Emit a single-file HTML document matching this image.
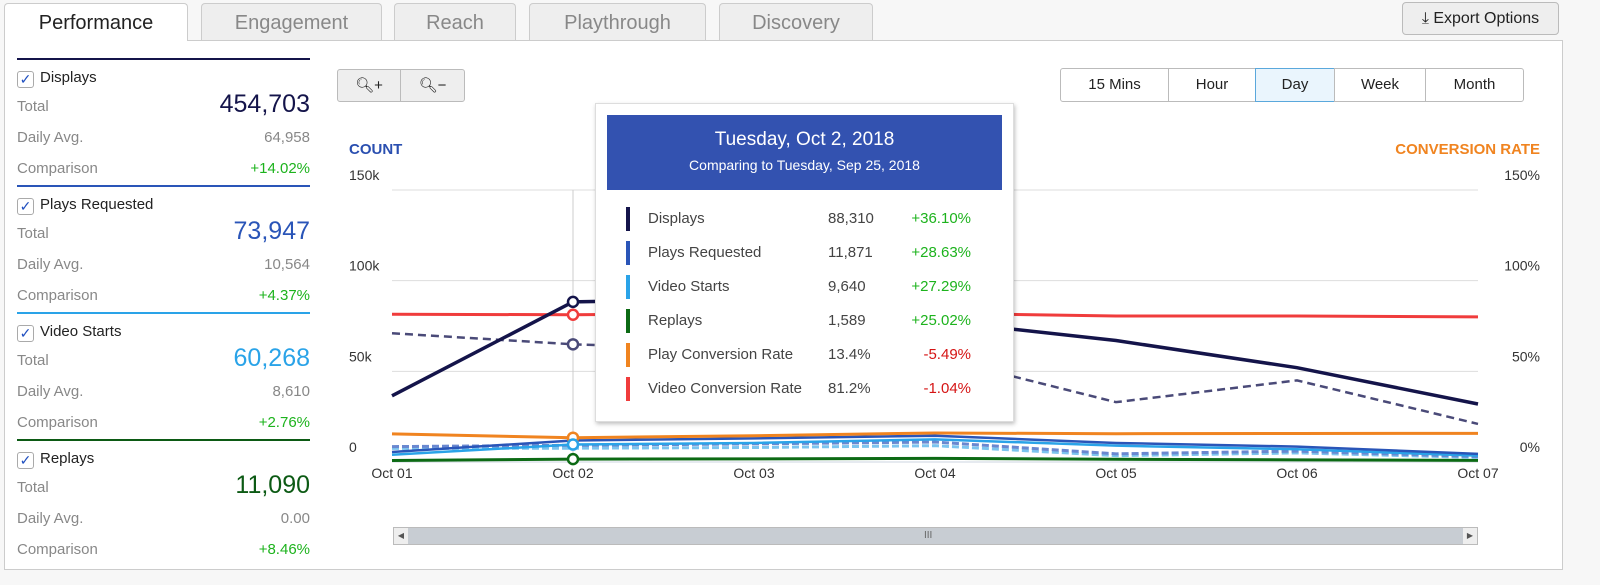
<!DOCTYPE html>
<html><head><meta charset="utf-8"><style>
body{margin:0;width:1600px;height:585px;background:#f7f7f7;font-family:"Liberation Sans",sans-serif;position:relative;overflow:hidden}
.a{position:absolute}
.tab{position:absolute;top:3px;height:37px;border:1px solid #ccc;border-bottom:none;background:#eee;border-radius:4px 4px 0 0;color:#888;font-size:20px;text-align:center;line-height:38px;box-sizing:border-box}
#panel{position:absolute;left:4px;top:40px;width:1559px;height:530px;background:#fff;border:1px solid #ccc;box-sizing:border-box}
.sec{position:absolute;left:17px;width:293px;height:127px;font-size:15px;color:#888}
.sec .t{position:absolute;top:9px;left:0;color:#222;font-size:15px}
.cb{display:inline-block;width:15px;height:15px;border:1px solid #aaa;border-radius:3px;vertical-align:-2px;margin-right:6px;text-align:center;line-height:15px;color:#2150c0;font-size:14px}
.row{position:absolute;left:0;right:0}
.row span{position:absolute;right:0}
.btn{position:absolute;border:1px solid #bbb;background:#fff;font-size:15px;text-align:center;line-height:32px;color:#222;box-sizing:border-box}
</style></head><body>
<div class="tab" style="left:4px;width:184px;background:#fff;color:#222;height:38px;z-index:2">Performance</div>
<div class="tab" style="left:201px;width:181px">Engagement</div>
<div class="tab" style="left:394px;width:122px">Reach</div>
<div class="tab" style="left:529px;width:177px">Playthrough</div>
<div class="tab" style="left:719px;width:154px">Discovery</div>
<div class="a" style="left:1402px;top:2px;width:157px;height:33px;border:1px solid #bbb;border-radius:4px;background:#eee;box-sizing:border-box;font-size:16px;line-height:31px;text-align:center;color:#222">⤓ Export Options</div>
<div id="panel"></div>

<div class="a" style="left:17px;top:58px;width:293px;height:2px;background:#14144a"></div>
<div class="sec" style="top:60px">
 <div class="t"><span class="cb">✓</span>Displays</div>
 <div class="row" style="top:38px">Total<span style="font-size:25px;color:#14144a;top:-8px">454,703</span></div>
 <div class="row" style="top:69px">Daily Avg.<span>64,958</span></div>
 <div class="row" style="top:100px">Comparison<span style="color:#1db31d">+14.02%</span></div>
</div>
<div class="a" style="left:17px;top:185px;width:293px;height:2px;background:#2a55b8"></div>
<div class="sec" style="top:187px">
 <div class="t"><span class="cb">✓</span>Plays Requested</div>
 <div class="row" style="top:38px">Total<span style="font-size:25px;color:#2a55b8;top:-8px">73,947</span></div>
 <div class="row" style="top:69px">Daily Avg.<span>10,564</span></div>
 <div class="row" style="top:100px">Comparison<span style="color:#1db31d">+4.37%</span></div>
</div>
<div class="a" style="left:17px;top:312px;width:293px;height:2px;background:#2aa3e8"></div>
<div class="sec" style="top:314px">
 <div class="t"><span class="cb">✓</span>Video Starts</div>
 <div class="row" style="top:38px">Total<span style="font-size:25px;color:#2aa3e8;top:-8px">60,268</span></div>
 <div class="row" style="top:69px">Daily Avg.<span>8,610</span></div>
 <div class="row" style="top:100px">Comparison<span style="color:#1db31d">+2.76%</span></div>
</div>
<div class="a" style="left:17px;top:439px;width:293px;height:2px;background:#0c5a14"></div>
<div class="sec" style="top:441px">
 <div class="t"><span class="cb">✓</span>Replays</div>
 <div class="row" style="top:38px">Total<span style="font-size:25px;color:#0c5a14;top:-8px">11,090</span></div>
 <div class="row" style="top:69px">Daily Avg.<span>0.00</span></div>
 <div class="row" style="top:100px">Comparison<span style="color:#1db31d">+8.46%</span></div>
</div>

<div class="btn" style="left:337px;top:69px;width:64px;height:33px;background:#eee;border-radius:3px 0 0 3px">🔍︎+</div>
<div class="btn" style="left:400px;top:69px;width:65px;height:33px;background:#eee;border-radius:0 3px 3px 0">🔍︎−</div>

<div class="btn" style="left:1060px;top:68px;width:109px;height:34px;border-radius:3px 0 0 3px">15 Mins</div>
<div class="btn" style="left:1168px;top:68px;width:88px;height:34px">Hour</div>
<div class="btn" style="left:1255px;top:68px;width:80px;height:34px;background:#eaf5fd;border-color:#5aa8dc">Day</div>
<div class="btn" style="left:1334px;top:68px;width:92px;height:34px">Week</div>
<div class="btn" style="left:1425px;top:68px;width:99px;height:34px;border-radius:0 3px 3px 0">Month</div>

<svg class="a" style="left:0;top:0" width="1600" height="585" id="chart"></svg>

<div class="a" style="left:393px;top:527px;width:1085px;height:18px;background:#c8cdd3;border:1px solid #bbb;box-sizing:border-box">
 <div class="a" style="left:0;top:0;width:14px;height:16px;background:#eee;font-size:8px;line-height:16px;text-align:center;color:#555">◀</div>
 <div class="a" style="left:530px;top:0;font-size:10px;line-height:16px;color:#666">III</div>
 <div class="a" style="right:0;top:0;width:14px;height:16px;background:#eee;font-size:8px;line-height:16px;text-align:center;color:#555">▶</div>
</div>

<div class="a" style="left:595px;top:103px;width:417px;height:317px;background:#fff;border:1px solid #ddd;box-shadow:1px 2px 4px rgba(0,0,0,.25)">
 <div class="a" style="left:11px;top:11px;width:395px;height:75px;background:#3352b0;color:#fff;text-align:center">
  <div style="font-size:19px;margin-top:14px">Tuesday, Oct 2, 2018</div>
  <div style="font-size:14px;margin-top:6px">Comparing to Tuesday, Sep 25, 2018</div>
 </div>
 <div id="tt"></div>
</div>

<script>
const categories=["Oct 01","Oct 02","Oct 03","Oct 04","Oct 05","Oct 06","Oct 07"];
const leftTicks=[0,50000,100000,150000];
const leftTickLabels=["0","50k","100k","150k"];
const rightTickLabels=["0%","50%","100%","150%"];
const displays=[36500,88310,90000,78000,67000,52000,32000];
const displaysPrev=[71000,64900,62000,58000,33000,45000,21000];
const playsRequested=[5500,11871,13000,14500,10500,8500,4500];
const playsRequestedPrev=[8500,9200,10000,11000,4500,6000,3000];
const videoStarts=[4000,9640,10500,12500,9000,7000,3500];
const videoStartsPrev=[7500,7600,8000,9000,3500,5000,2500];
const replays=[800,1589,1700,2000,1500,1200,900];
const playConv=[15.5,13.4,14.5,16,15.6,15.7,15.8];
const videoConv=[81.5,81.2,82,82,80.5,80.5,80];
const ttNames=["Displays","Plays Requested","Video Starts","Replays","Play Conversion Rate","Video Conversion Rate"];
const ttValues=["88,310","11,871","9,640","1,589","13.4%","81.2%"];
const ttChanges=["+36.10%","+28.63%","+27.29%","+25.02%","-5.49%","-1.04%"];
const colors=["#14144a","#2a55b8","#2aa3e8","#0c6a14","#f08420","#f03c3c"];

const svg=document.getElementById('chart'),NS="http://www.w3.org/2000/svg";
const X0=392,X1=1478,Y0=462,Y1=190;
const x=i=>X0+(X1-X0)*i/(categories.length-1);
const yL=v=>Y0-(Y0-Y1)*v/150000;
const yR=v=>Y0-(Y0-Y1)*v/150;
function el(t,a,p){const e=document.createElementNS(NS,t);for(const k in a)e.setAttribute(k,a[k]);(p||svg).appendChild(e);return e;}
leftTicks.forEach((t,i)=>{
 const g=el('line',{x1:X0,x2:X1,y1:yL(t),y2:yL(t),stroke:i?'#ddd':'#e6eaf0','stroke-width':i?1:2});
 
 
 const l=el('text',{x:349,y:yL(t)-10,'font-size':14,fill:'#333'});l.textContent=leftTickLabels[i];
 
 
 const r=el('text',{x:1540,y:yR(t/1000)-10,'font-size':14,fill:'#333','text-anchor':'end'});r.textContent=rightTickLabels[i];
 
 
});
categories.forEach((c,i)=>{const t=el('text',{x:x(i),y:478,'font-size':14,fill:'#333','text-anchor':'middle'});t.textContent=c;
 
 });
let ct=el('text',{x:349,y:154,'font-size':15,'font-weight':'bold',fill:'#2a4fb0'});ct.textContent="COUNT";


ct=el('text',{x:1540,y:154,'font-size':15,'font-weight':'bold',fill:'#f08420','text-anchor':'end'});ct.textContent="CONVERSION RATE";


el('line',{x1:x(1),x2:x(1),y1:Y1,y2:Y0,stroke:'#ccc'});
function line(d,f,col,w,dash,name){
 const p=el('polyline',{points:d.map((v,i)=>x(i)+','+f(v)).join(' '),fill:'none',stroke:col,'stroke-width':w,'stroke-dasharray':dash||'none'});
 
 
}
line(replays,yL,colors[3],3,null,'replays-line');
line(videoStartsPrev,yL,'#7cc4ee',3,'7 3','video-starts-prev-line');
line(playsRequestedPrev,yL,'#6a88d0',3,'7 3','plays-requested-prev-line');
line(videoStarts,yL,colors[2],2.5,null,'video-starts-line');
line(playsRequested,yL,colors[2-1],2.5,null,'plays-requested-line');
line(playConv,yR,colors[4],3,null,'play-conversion-line');
line(videoConv,yR,colors[5],3,null,'video-conversion-line');
line(displaysPrev,yL,'#4a4a78',2.5,'8 5','displays-prev-line');
line(displays,yL,colors[0],3.5,null,'displays-line');
[[displays,yL,colors[0]],[displaysPrev,yL,'#4a4a78'],[videoConv,yR,colors[5]],[playConv,yR,colors[4]],[videoStarts,yL,colors[2]],[replays,yL,colors[3]]].forEach(([d,f,c])=>{
 const m=el('circle',{cx:x(1),cy:f(d[1]),r:5,fill:'#fff',stroke:c,'stroke-width':2.5});
 
 
});
const tt=document.getElementById('tt');
ttNames.forEach((n,i)=>{
 const r=document.createElement('div');r.className='a';r.style.cssText=`left:30px;top:${103+i*34}px;width:345px;height:24px;font-size:15px;color:#444;line-height:24px`;
 
 
 const neg=ttChanges[i][0]=='-';
 r.innerHTML=`<div class="a" style="left:0;top:0;width:4px;height:24px;background:${colors[i]}"></div><span class="a" style="left:22px">${n}</span><span class="a" style="left:202px">${ttValues[i]}</span><span class="a" style="right:0;color:${neg?'#d51414':'#1db31d'}">${ttChanges[i]}</span>`;
 tt.appendChild(r);
});
</script>
</body></html>
